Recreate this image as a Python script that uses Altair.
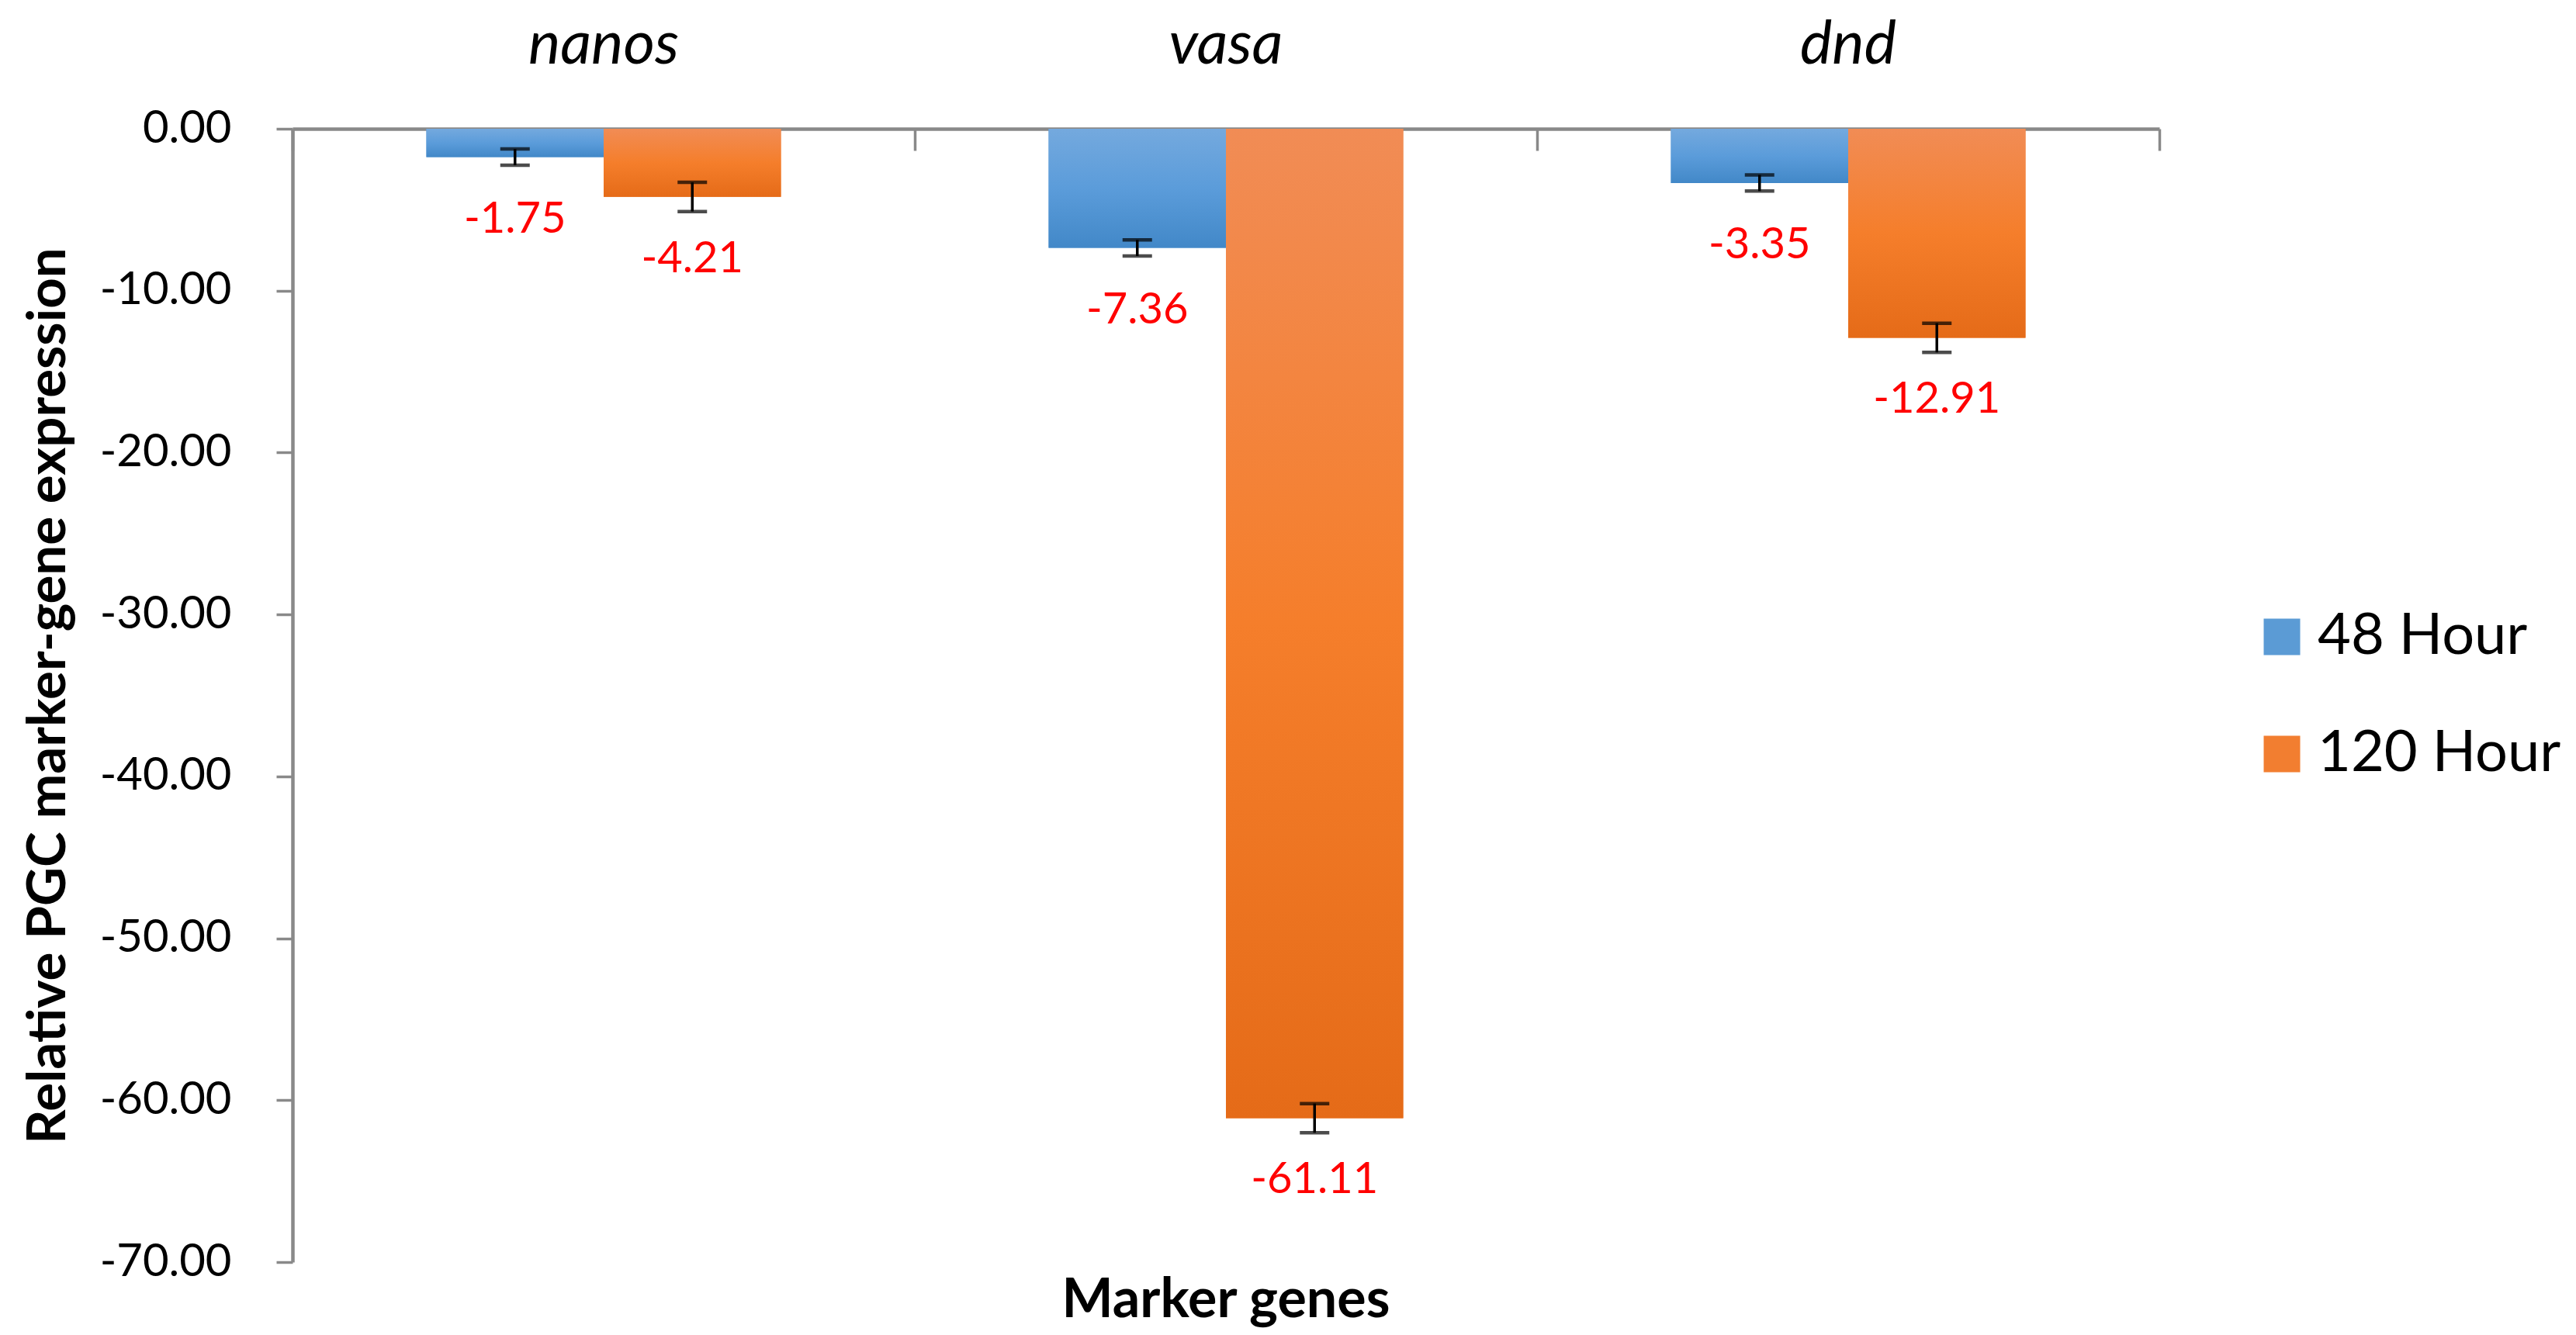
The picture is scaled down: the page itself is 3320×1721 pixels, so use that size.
import altair as alt
import pandas as pd

genes = ["nanos", "vasa", "dnd"]
series = ["48 Hour", "120 Hour"]
values_48 = [-1.75, -7.36, -3.35]
values_120 = [-4.21, -61.11, -12.91]
err_48 = [0.5, 0.5, 0.5]
err_120 = [0.9, 0.9, 0.9]
y_ticks = [0, -10, -20, -30, -40, -50, -60, -70]

rows = []
for g, v, e in zip(genes, values_48, err_48):
    rows.append({"gene": g, "series": "48 Hour", "value": v, "err": e})
for g, v, e in zip(genes, values_120, err_120):
    rows.append({"gene": g, "series": "120 Hour", "value": v, "err": e})
df = pd.DataFrame(rows)
df["lo"] = df["value"] - df["err"]
df["hi"] = df["value"] + df["err"]

W, H = 2406, 1461
FONT = "Lato"
GRAY = "#898989"
MINUS = "\u2212"

blue_grad = {"gradient": "linear", "x1": 0, "y1": 0, "x2": 0, "y2": 1,
             "stops": [{"offset": 0, "color": "#74A9DE"},
                       {"offset": 0.5, "color": "#5B9CDA"},
                       {"offset": 1, "color": "#4288C8"}]}
orange_grad = {"gradient": "linear", "x1": 0, "y1": 0, "x2": 0, "y2": 1,
               "stops": [{"offset": 0, "color": "#F18C55"},
                         {"offset": 0.5, "color": "#F57E2B"},
                         {"offset": 1, "color": "#E56B18"}]}

x_scale = alt.Scale(domain=genes, paddingInner=0, paddingOuter=0)
x_axis = alt.Axis(orient="bottom", offset=-H, labels=False, title=None,
                  domainColor=GRAY, domainWidth=4.5, tickColor=GRAY,
                  tickWidth=3.5, tickSize=28, tickBand="extent", grid=False)


def xdef():
    return alt.X("gene:N", sort=genes, scale=x_scale, axis=x_axis)


def xoff():
    return alt.XOffset("series:N", sort=series,
                       scale=alt.Scale(domain=series, paddingInner=0, paddingOuter=0.755))


y_scale = alt.Scale(domain=[-70, 0], nice=False)
y_axis = alt.Axis(values=y_ticks,
                  labelExpr="replace(format(datum.value, '.2f'), '" + MINUS + "', '-')",
                  title="Relative PGC marker-gene expression",
                  titleFont=FONT, titleFontSize=69, titleFontWeight="bold",
                  titleColor="black", titleX=-294, titleY=H / 2, titleAngle=270,
                  titleAlign="center", titleBaseline="alphabetic",
                  labelFont=FONT, labelFontSize=58, labelColor="black",
                  labelPadding=58, tickSize=21, tickWidth=3.5, tickColor=GRAY,
                  domainColor=GRAY, domainWidth=4.5, grid=False)


def ydef(field):
    return alt.Y(field + ":Q", scale=y_scale, axis=y_axis)


base = alt.Chart(df)

bars_solid = base.mark_bar().encode(
    x=xdef(), xOffset=xoff(), y=ydef("value"),
    color=alt.Color("series:N", sort=series,
                    scale=alt.Scale(domain=series, range=["#5B9BD5", "#F27E30"]),
                    legend=alt.Legend(title=None, orient="none", legendX=2527, legendY=618,
                                      symbolType="square", symbolSize=2209,
                                      symbolStrokeWidth=0, labelFont=FONT,
                                      labelFontSize=74, labelColor="black",
                                      labelLimit=0, labelOffset=9, rowPadding=77,
                                      padding=0)),
)

bars_blue = base.transform_filter("datum.series == '48 Hour'").mark_bar(
    fill=blue_grad).encode(x=xdef(), xOffset=xoff(), y=ydef("value"))
bars_orange = base.transform_filter("datum.series == '120 Hour'").mark_bar(
    fill=orange_grad).encode(x=xdef(), xOffset=xoff(), y=ydef("value"))

stems = base.mark_rule(color="black", strokeWidth=3.5).encode(
    x=xdef(), xOffset=xoff(), y=ydef("lo"), y2="hi")
caps_lo = base.mark_tick(color="black", thickness=4.5, size=38).encode(
    x=xdef(), xOffset=xoff(), y=ydef("lo"))
caps_hi = base.mark_tick(color="black", thickness=4.5, size=38).encode(
    x=xdef(), xOffset=xoff(), y=ydef("hi"))

labels = base.transform_calculate(
    label="replace(format(datum.value, '.2f'), '" + MINUS + "', '-')"
).mark_text(dy=80, baseline="middle", align="center", font=FONT, fontSize=56,
            color="#FF0000").encode(
    x=xdef(), xOffset=xoff(), y=ydef("value"), text="label:N")

gene_df = pd.DataFrame({"gene": genes})
gene_labels = alt.Chart(gene_df).mark_text(
    font=FONT, fontSize=78, fontStyle="italic", baseline="alphabetic",
    align="center", color="black").encode(
    x=xdef(), y=alt.value(-84), text="gene:N")

xtitle_df = pd.DataFrame({"t": ["Marker genes"]})
x_title = alt.Chart(xtitle_df).mark_text(
    font=FONT, fontSize=70, fontWeight="bold", baseline="alphabetic",
    align="center", color="black").encode(
    x=alt.value(W / 2), y=alt.value(H + 71), text="t:N")

chart = alt.layer(
    bars_solid, bars_blue, bars_orange, stems, caps_lo, caps_hi, labels,
    gene_labels, x_title
).properties(
    width=W, height=H,
    autosize=alt.AutoSizeParams(type="none"),
    padding={"left": 369, "top": 158, "right": 529, "bottom": 86},
).configure_view(strokeWidth=0)

chart.save("out.html", embed_options={"renderer": "svg", "actions": False})
